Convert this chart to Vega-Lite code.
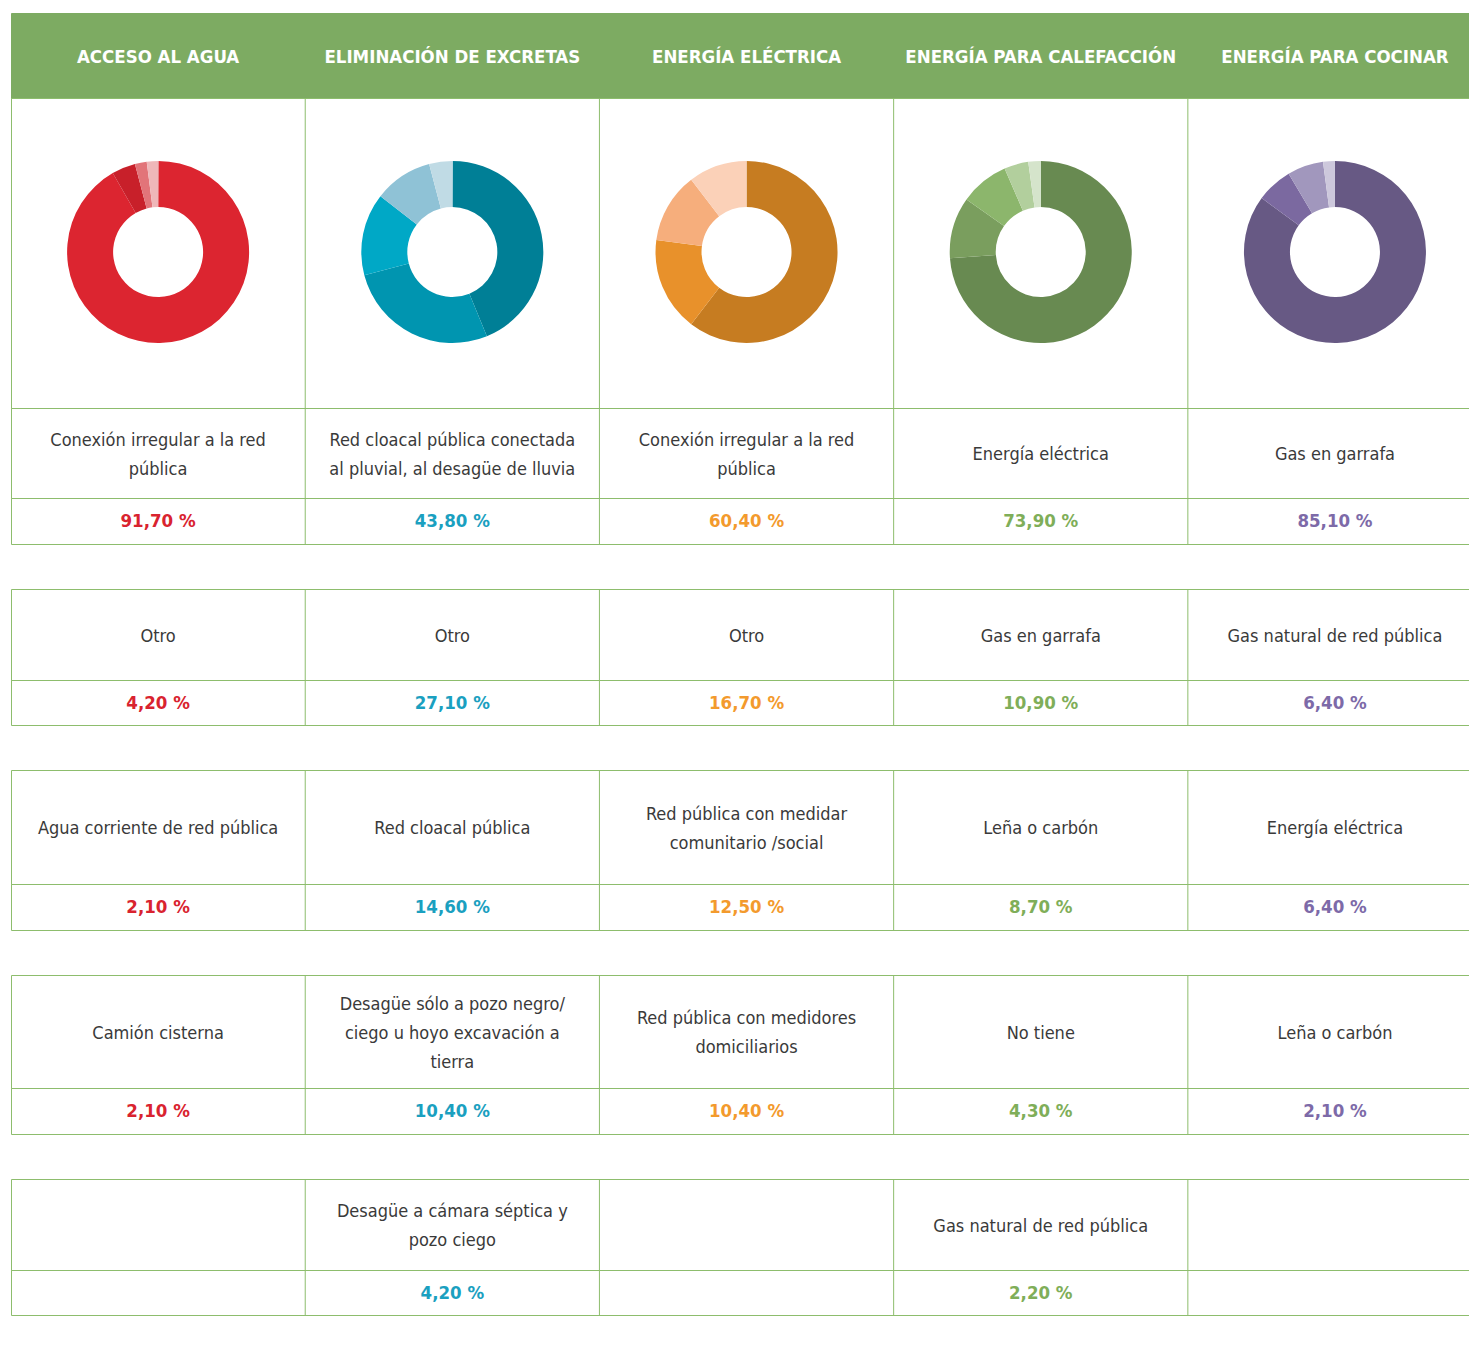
{
  "$schema": "https://vega.github.io/schema/vega-lite/v6.json",
  "padding": {"left": 10, "top": 12, "right": 0, "bottom": 0},
  "spacing": 0,
  "bounds": "flush",
  "background": "white",
  "config": {
    "view": {"stroke": "#8dbd6d", "strokeWidth": 1},
    "concat": {"spacing": 0}
  },
  "resolve": {"scale": {"color": "independent"}},
  "datasets": {
    "cols": [
      {"ci": 0, "col": "ACCESO AL AGUA"},
      {"ci": 1, "col": "ELIMINACIÓN DE EXCRETAS"},
      {"ci": 2, "col": "ENERGÍA ELÉCTRICA"},
      {"ci": 3, "col": "ENERGÍA PARA CALEFACCIÓN"},
      {"ci": 4, "col": "ENERGÍA PARA COCINAR"}
    ],
    "cells": [
      {"ci": 0, "item": 1, "label": "Conexión irregular a la red\npública", "value": 91.7},
      {"ci": 0, "item": 2, "label": "Otro", "value": 4.2},
      {"ci": 0, "item": 3, "label": "Agua corriente de red pública", "value": 2.1},
      {"ci": 0, "item": 4, "label": "Camión cisterna", "value": 2.1},
      {"ci": 1, "item": 1, "label": "Red cloacal pública conectada\nal pluvial, al desagüe de lluvia", "value": 43.8},
      {"ci": 1, "item": 2, "label": "Otro", "value": 27.1},
      {"ci": 1, "item": 3, "label": "Red cloacal pública", "value": 14.6},
      {"ci": 1, "item": 4, "label": "Desagüe sólo a pozo negro/\nciego u hoyo excavación a\ntierra", "value": 10.4},
      {"ci": 1, "item": 5, "label": "Desagüe a cámara séptica y\npozo ciego", "value": 4.2},
      {"ci": 2, "item": 1, "label": "Conexión irregular a la red\npública", "value": 60.4},
      {"ci": 2, "item": 2, "label": "Otro", "value": 16.7},
      {"ci": 2, "item": 3, "label": "Red pública con medidar\ncomunitario /social", "value": 12.5},
      {"ci": 2, "item": 4, "label": "Red pública con medidores\ndomiciliarios", "value": 10.4},
      {"ci": 3, "item": 1, "label": "Energía eléctrica", "value": 73.9},
      {"ci": 3, "item": 2, "label": "Gas en garrafa", "value": 10.9},
      {"ci": 3, "item": 3, "label": "Leña o carbón", "value": 8.7},
      {"ci": 3, "item": 4, "label": "No tiene", "value": 4.3},
      {"ci": 3, "item": 5, "label": "Gas natural de red pública", "value": 2.2},
      {"ci": 4, "item": 1, "label": "Gas en garrafa", "value": 85.1},
      {"ci": 4, "item": 2, "label": "Gas natural de red pública", "value": 6.4},
      {"ci": 4, "item": 3, "label": "Energía eléctrica", "value": 6.4},
      {"ci": 4, "item": 4, "label": "Leña o carbón", "value": 2.1}
    ]
  },
  "vconcat": [
    {
      "width": 1459, "height": 85,
      "view": {"fill": "#7dab62", "stroke": "#7dab62"},
      "data": {"name": "cols"},
      "mark": {"type": "text", "color": "white", "font": "DejaVu Sans Condensed, sans-serif", "fontWeight": "bold", "fontSize": 18.5, "align": "center", "baseline": "middle", "dy": 1},
      "encoding": {
        "x": {"field": "ci", "type": "quantitative", "scale": {"domain": [-0.5, 4.459], "nice": false, "zero": false}, "axis": null},
        "text": {"field": "col"}
      }
    },
    {
      "width": 1459, "height": 310,
      "layer": [
        {
          "data": {"name": "cols"},
          "transform": [{"filter": "datum.ci > 0"}],
          "mark": {"type": "rule", "color": "#8dbd6d", "strokeWidth": 1, "xOffset": -147.1},
          "encoding": {"x": {"field": "ci", "type": "quantitative", "scale": {"domain": [-0.5, 4.459], "nice": false, "zero": false}, "axis": null}}
        },
        {
          "data": {"name": "cells"},
          "transform": [
            {"window": [{"op": "sum", "field": "value", "as": "end"}], "groupby": ["ci"], "sort": [{"field": "item"}], "frame": [null, 0]},
            {"calculate": "datum.end - datum.value", "as": "start"},
            {"calculate": "datum.ci + '-' + datum.item", "as": "key"}
          ],
          "mark": {"type": "arc", "radius": 91, "radius2": 45, "yOffset": -1},
          "encoding": {
            "x": {"field": "ci", "type": "quantitative", "stack": null, "scale": {"domain": [-0.5, 4.459], "nice": false, "zero": false}, "axis": null},
            "theta": {"field": "start", "type": "quantitative", "stack": null, "scale": {"domain": [0, 100], "range": [0, 6.2832]}},
            "theta2": {"field": "end"},
            "color": {
              "field": "key", "type": "nominal", "legend": null,
              "scale": {
                "domain": ["0-1","0-2","0-3","0-4","1-1","1-2","1-3","1-4","1-5","2-1","2-2","2-3","2-4","3-1","3-2","3-3","3-4","3-5","4-1","4-2","4-3","4-4"],
                "range": ["#dc2530","#c8202a","#e27479","#efb7b9","#007f96","#0095b0","#00a8c6","#8fc2d6","#c0dbe5","#c67c21","#e8912b","#f6ae7c","#fbd1b8","#688a51","#7a9e5e","#8cb66c","#b2cf9d","#d5e4cb","#675984","#7b69a0","#a197bd","#cdc8dc"]
              }
            }
          }
        }
      ]
    },
    {"width": 1459, "height": 90, "layer": [
      {"data": {"name": "cols"}, "transform": [{"filter": "datum.ci > 0"}], "mark": {"type": "rule", "color": "#8dbd6d", "xOffset": -147.1}, "encoding": {"x": {"field": "ci", "type": "quantitative", "scale": {"domain": [-0.5, 4.459], "nice": false, "zero": false}, "axis": null}}},
      {"data": {"name": "cells"}, "transform": [{"filter": "datum.item == 1 && length(split(datum.label, '\\n')) == 1"}], "mark": {"type": "text", "font": "DejaVu Sans Condensed, sans-serif", "fontSize": 18, "color": "#3a3a3a", "lineBreak": "\n", "lineHeight": 29, "align": "center", "baseline": "middle", "dy": 2}, "encoding": {"x": {"field": "ci", "type": "quantitative", "scale": {"domain": [-0.5, 4.459], "nice": false, "zero": false}, "axis": null}, "text": {"field": "label"}}},
      {"data": {"name": "cells"}, "transform": [{"filter": "datum.item == 1 && length(split(datum.label, '\\n')) == 2"}], "mark": {"type": "text", "font": "DejaVu Sans Condensed, sans-serif", "fontSize": 18, "color": "#3a3a3a", "lineBreak": "\n", "lineHeight": 29, "align": "center", "baseline": "middle", "dy": -12.5}, "encoding": {"x": {"field": "ci", "type": "quantitative", "scale": {"domain": [-0.5, 4.459], "nice": false, "zero": false}, "axis": null}, "text": {"field": "label"}}},
      {"data": {"name": "cells"}, "transform": [{"filter": "datum.item == 1 && length(split(datum.label, '\\n')) == 3"}], "mark": {"type": "text", "font": "DejaVu Sans Condensed, sans-serif", "fontSize": 18, "color": "#3a3a3a", "lineBreak": "\n", "lineHeight": 29, "align": "center", "baseline": "middle", "dy": -27}, "encoding": {"x": {"field": "ci", "type": "quantitative", "scale": {"domain": [-0.5, 4.459], "nice": false, "zero": false}, "axis": null}, "text": {"field": "label"}}}
    ]},
    {"width": 1459, "height": 46, "layer": [
      {"data": {"name": "cols"}, "transform": [{"filter": "datum.ci > 0"}], "mark": {"type": "rule", "color": "#8dbd6d", "xOffset": -147.1}, "encoding": {"x": {"field": "ci", "type": "quantitative", "scale": {"domain": [-0.5, 4.459], "nice": false, "zero": false}, "axis": null}}},
      {"data": {"name": "cells"}, "transform": [{"filter": "datum.item == 1"}, {"calculate": "replace(format(datum.value, '.2f'), '.', ',') + ' %'", "as": "pct"}], "mark": {"type": "text", "font": "DejaVu Sans Condensed, sans-serif", "fontWeight": "bold", "fontSize": 18.5, "align": "center", "baseline": "middle"}, "encoding": {"x": {"field": "ci", "type": "quantitative", "scale": {"domain": [-0.5, 4.459], "nice": false, "zero": false}, "axis": null}, "text": {"field": "pct"}, "color": {"field": "ci", "type": "nominal", "legend": null, "scale": {"domain": [0,1,2,3,4], "range": ["#d9232f","#1aa0c0","#f39a2d","#7fae59","#7d6aa8"]}}}}
    ]},
    {"width": 1459, "height": 45, "data": {"values": [{}]}, "mark": {"type": "text", "text": ""}, "encoding": {}},
    {"width": 1459, "height": 91, "layer": [
      {"data": {"name": "cols"}, "transform": [{"filter": "datum.ci > 0"}], "mark": {"type": "rule", "color": "#8dbd6d", "xOffset": -147.1}, "encoding": {"x": {"field": "ci", "type": "quantitative", "scale": {"domain": [-0.5, 4.459], "nice": false, "zero": false}, "axis": null}}},
      {"data": {"name": "cells"}, "transform": [{"filter": "datum.item == 2 && length(split(datum.label, '\\n')) == 1"}], "mark": {"type": "text", "font": "DejaVu Sans Condensed, sans-serif", "fontSize": 18, "color": "#3a3a3a", "lineBreak": "\n", "lineHeight": 29, "align": "center", "baseline": "middle", "dy": 2}, "encoding": {"x": {"field": "ci", "type": "quantitative", "scale": {"domain": [-0.5, 4.459], "nice": false, "zero": false}, "axis": null}, "text": {"field": "label"}}},
      {"data": {"name": "cells"}, "transform": [{"filter": "datum.item == 2 && length(split(datum.label, '\\n')) == 2"}], "mark": {"type": "text", "font": "DejaVu Sans Condensed, sans-serif", "fontSize": 18, "color": "#3a3a3a", "lineBreak": "\n", "lineHeight": 29, "align": "center", "baseline": "middle", "dy": -12.5}, "encoding": {"x": {"field": "ci", "type": "quantitative", "scale": {"domain": [-0.5, 4.459], "nice": false, "zero": false}, "axis": null}, "text": {"field": "label"}}},
      {"data": {"name": "cells"}, "transform": [{"filter": "datum.item == 2 && length(split(datum.label, '\\n')) == 3"}], "mark": {"type": "text", "font": "DejaVu Sans Condensed, sans-serif", "fontSize": 18, "color": "#3a3a3a", "lineBreak": "\n", "lineHeight": 29, "align": "center", "baseline": "middle", "dy": -27}, "encoding": {"x": {"field": "ci", "type": "quantitative", "scale": {"domain": [-0.5, 4.459], "nice": false, "zero": false}, "axis": null}, "text": {"field": "label"}}}
    ]},
    {"width": 1459, "height": 45, "layer": [
      {"data": {"name": "cols"}, "transform": [{"filter": "datum.ci > 0"}], "mark": {"type": "rule", "color": "#8dbd6d", "xOffset": -147.1}, "encoding": {"x": {"field": "ci", "type": "quantitative", "scale": {"domain": [-0.5, 4.459], "nice": false, "zero": false}, "axis": null}}},
      {"data": {"name": "cells"}, "transform": [{"filter": "datum.item == 2"}, {"calculate": "replace(format(datum.value, '.2f'), '.', ',') + ' %'", "as": "pct"}], "mark": {"type": "text", "font": "DejaVu Sans Condensed, sans-serif", "fontWeight": "bold", "fontSize": 18.5, "align": "center", "baseline": "middle"}, "encoding": {"x": {"field": "ci", "type": "quantitative", "scale": {"domain": [-0.5, 4.459], "nice": false, "zero": false}, "axis": null}, "text": {"field": "pct"}, "color": {"field": "ci", "type": "nominal", "legend": null, "scale": {"domain": [0,1,2,3,4], "range": ["#d9232f","#1aa0c0","#f39a2d","#7fae59","#7d6aa8"]}}}}
    ]},
    {"width": 1459, "height": 45, "data": {"values": [{}]}, "mark": {"type": "text", "text": ""}, "encoding": {}},
    {"width": 1459, "height": 114, "layer": [
      {"data": {"name": "cols"}, "transform": [{"filter": "datum.ci > 0"}], "mark": {"type": "rule", "color": "#8dbd6d", "xOffset": -147.1}, "encoding": {"x": {"field": "ci", "type": "quantitative", "scale": {"domain": [-0.5, 4.459], "nice": false, "zero": false}, "axis": null}}},
      {"data": {"name": "cells"}, "transform": [{"filter": "datum.item == 3 && length(split(datum.label, '\\n')) == 1"}], "mark": {"type": "text", "font": "DejaVu Sans Condensed, sans-serif", "fontSize": 18, "color": "#3a3a3a", "lineBreak": "\n", "lineHeight": 29, "align": "center", "baseline": "middle", "dy": 2}, "encoding": {"x": {"field": "ci", "type": "quantitative", "scale": {"domain": [-0.5, 4.459], "nice": false, "zero": false}, "axis": null}, "text": {"field": "label"}}},
      {"data": {"name": "cells"}, "transform": [{"filter": "datum.item == 3 && length(split(datum.label, '\\n')) == 2"}], "mark": {"type": "text", "font": "DejaVu Sans Condensed, sans-serif", "fontSize": 18, "color": "#3a3a3a", "lineBreak": "\n", "lineHeight": 29, "align": "center", "baseline": "middle", "dy": -12.5}, "encoding": {"x": {"field": "ci", "type": "quantitative", "scale": {"domain": [-0.5, 4.459], "nice": false, "zero": false}, "axis": null}, "text": {"field": "label"}}},
      {"data": {"name": "cells"}, "transform": [{"filter": "datum.item == 3 && length(split(datum.label, '\\n')) == 3"}], "mark": {"type": "text", "font": "DejaVu Sans Condensed, sans-serif", "fontSize": 18, "color": "#3a3a3a", "lineBreak": "\n", "lineHeight": 29, "align": "center", "baseline": "middle", "dy": -27}, "encoding": {"x": {"field": "ci", "type": "quantitative", "scale": {"domain": [-0.5, 4.459], "nice": false, "zero": false}, "axis": null}, "text": {"field": "label"}}}
    ]},
    {"width": 1459, "height": 46, "layer": [
      {"data": {"name": "cols"}, "transform": [{"filter": "datum.ci > 0"}], "mark": {"type": "rule", "color": "#8dbd6d", "xOffset": -147.1}, "encoding": {"x": {"field": "ci", "type": "quantitative", "scale": {"domain": [-0.5, 4.459], "nice": false, "zero": false}, "axis": null}}},
      {"data": {"name": "cells"}, "transform": [{"filter": "datum.item == 3"}, {"calculate": "replace(format(datum.value, '.2f'), '.', ',') + ' %'", "as": "pct"}], "mark": {"type": "text", "font": "DejaVu Sans Condensed, sans-serif", "fontWeight": "bold", "fontSize": 18.5, "align": "center", "baseline": "middle"}, "encoding": {"x": {"field": "ci", "type": "quantitative", "scale": {"domain": [-0.5, 4.459], "nice": false, "zero": false}, "axis": null}, "text": {"field": "pct"}, "color": {"field": "ci", "type": "nominal", "legend": null, "scale": {"domain": [0,1,2,3,4], "range": ["#d9232f","#1aa0c0","#f39a2d","#7fae59","#7d6aa8"]}}}}
    ]},
    {"width": 1459, "height": 45, "data": {"values": [{}]}, "mark": {"type": "text", "text": ""}, "encoding": {}},
    {"width": 1459, "height": 113, "layer": [
      {"data": {"name": "cols"}, "transform": [{"filter": "datum.ci > 0"}], "mark": {"type": "rule", "color": "#8dbd6d", "xOffset": -147.1}, "encoding": {"x": {"field": "ci", "type": "quantitative", "scale": {"domain": [-0.5, 4.459], "nice": false, "zero": false}, "axis": null}}},
      {"data": {"name": "cells"}, "transform": [{"filter": "datum.item == 4 && length(split(datum.label, '\\n')) == 1"}], "mark": {"type": "text", "font": "DejaVu Sans Condensed, sans-serif", "fontSize": 18, "color": "#3a3a3a", "lineBreak": "\n", "lineHeight": 29, "align": "center", "baseline": "middle", "dy": 2}, "encoding": {"x": {"field": "ci", "type": "quantitative", "scale": {"domain": [-0.5, 4.459], "nice": false, "zero": false}, "axis": null}, "text": {"field": "label"}}},
      {"data": {"name": "cells"}, "transform": [{"filter": "datum.item == 4 && length(split(datum.label, '\\n')) == 2"}], "mark": {"type": "text", "font": "DejaVu Sans Condensed, sans-serif", "fontSize": 18, "color": "#3a3a3a", "lineBreak": "\n", "lineHeight": 29, "align": "center", "baseline": "middle", "dy": -12.5}, "encoding": {"x": {"field": "ci", "type": "quantitative", "scale": {"domain": [-0.5, 4.459], "nice": false, "zero": false}, "axis": null}, "text": {"field": "label"}}},
      {"data": {"name": "cells"}, "transform": [{"filter": "datum.item == 4 && length(split(datum.label, '\\n')) == 3"}], "mark": {"type": "text", "font": "DejaVu Sans Condensed, sans-serif", "fontSize": 18, "color": "#3a3a3a", "lineBreak": "\n", "lineHeight": 29, "align": "center", "baseline": "middle", "dy": -27}, "encoding": {"x": {"field": "ci", "type": "quantitative", "scale": {"domain": [-0.5, 4.459], "nice": false, "zero": false}, "axis": null}, "text": {"field": "label"}}}
    ]},
    {"width": 1459, "height": 46, "layer": [
      {"data": {"name": "cols"}, "transform": [{"filter": "datum.ci > 0"}], "mark": {"type": "rule", "color": "#8dbd6d", "xOffset": -147.1}, "encoding": {"x": {"field": "ci", "type": "quantitative", "scale": {"domain": [-0.5, 4.459], "nice": false, "zero": false}, "axis": null}}},
      {"data": {"name": "cells"}, "transform": [{"filter": "datum.item == 4"}, {"calculate": "replace(format(datum.value, '.2f'), '.', ',') + ' %'", "as": "pct"}], "mark": {"type": "text", "font": "DejaVu Sans Condensed, sans-serif", "fontWeight": "bold", "fontSize": 18.5, "align": "center", "baseline": "middle"}, "encoding": {"x": {"field": "ci", "type": "quantitative", "scale": {"domain": [-0.5, 4.459], "nice": false, "zero": false}, "axis": null}, "text": {"field": "pct"}, "color": {"field": "ci", "type": "nominal", "legend": null, "scale": {"domain": [0,1,2,3,4], "range": ["#d9232f","#1aa0c0","#f39a2d","#7fae59","#7d6aa8"]}}}}
    ]},
    {"width": 1459, "height": 45, "data": {"values": [{}]}, "mark": {"type": "text", "text": ""}, "encoding": {}},
    {"width": 1459, "height": 91, "layer": [
      {"data": {"name": "cols"}, "transform": [{"filter": "datum.ci > 0"}], "mark": {"type": "rule", "color": "#8dbd6d", "xOffset": -147.1}, "encoding": {"x": {"field": "ci", "type": "quantitative", "scale": {"domain": [-0.5, 4.459], "nice": false, "zero": false}, "axis": null}}},
      {"data": {"name": "cells"}, "transform": [{"filter": "datum.item == 5 && length(split(datum.label, '\\n')) == 1"}], "mark": {"type": "text", "font": "DejaVu Sans Condensed, sans-serif", "fontSize": 18, "color": "#3a3a3a", "lineBreak": "\n", "lineHeight": 29, "align": "center", "baseline": "middle", "dy": 2}, "encoding": {"x": {"field": "ci", "type": "quantitative", "scale": {"domain": [-0.5, 4.459], "nice": false, "zero": false}, "axis": null}, "text": {"field": "label"}}},
      {"data": {"name": "cells"}, "transform": [{"filter": "datum.item == 5 && length(split(datum.label, '\\n')) == 2"}], "mark": {"type": "text", "font": "DejaVu Sans Condensed, sans-serif", "fontSize": 18, "color": "#3a3a3a", "lineBreak": "\n", "lineHeight": 29, "align": "center", "baseline": "middle", "dy": -12.5}, "encoding": {"x": {"field": "ci", "type": "quantitative", "scale": {"domain": [-0.5, 4.459], "nice": false, "zero": false}, "axis": null}, "text": {"field": "label"}}},
      {"data": {"name": "cells"}, "transform": [{"filter": "datum.item == 5 && length(split(datum.label, '\\n')) == 3"}], "mark": {"type": "text", "font": "DejaVu Sans Condensed, sans-serif", "fontSize": 18, "color": "#3a3a3a", "lineBreak": "\n", "lineHeight": 29, "align": "center", "baseline": "middle", "dy": -27}, "encoding": {"x": {"field": "ci", "type": "quantitative", "scale": {"domain": [-0.5, 4.459], "nice": false, "zero": false}, "axis": null}, "text": {"field": "label"}}}
    ]},
    {"width": 1459, "height": 45, "layer": [
      {"data": {"name": "cols"}, "transform": [{"filter": "datum.ci > 0"}], "mark": {"type": "rule", "color": "#8dbd6d", "xOffset": -147.1}, "encoding": {"x": {"field": "ci", "type": "quantitative", "scale": {"domain": [-0.5, 4.459], "nice": false, "zero": false}, "axis": null}}},
      {"data": {"name": "cells"}, "transform": [{"filter": "datum.item == 5"}, {"calculate": "replace(format(datum.value, '.2f'), '.', ',') + ' %'", "as": "pct"}], "mark": {"type": "text", "font": "DejaVu Sans Condensed, sans-serif", "fontWeight": "bold", "fontSize": 18.5, "align": "center", "baseline": "middle"}, "encoding": {"x": {"field": "ci", "type": "quantitative", "scale": {"domain": [-0.5, 4.459], "nice": false, "zero": false}, "axis": null}, "text": {"field": "pct"}, "color": {"field": "ci", "type": "nominal", "legend": null, "scale": {"domain": [0,1,2,3,4], "range": ["#d9232f","#1aa0c0","#f39a2d","#7fae59","#7d6aa8"]}}}}
    ]},
    {"width": 1459, "height": 38, "data": {"values": [{}]}, "mark": {"type": "text", "text": ""}, "encoding": {}}
  ]
}
